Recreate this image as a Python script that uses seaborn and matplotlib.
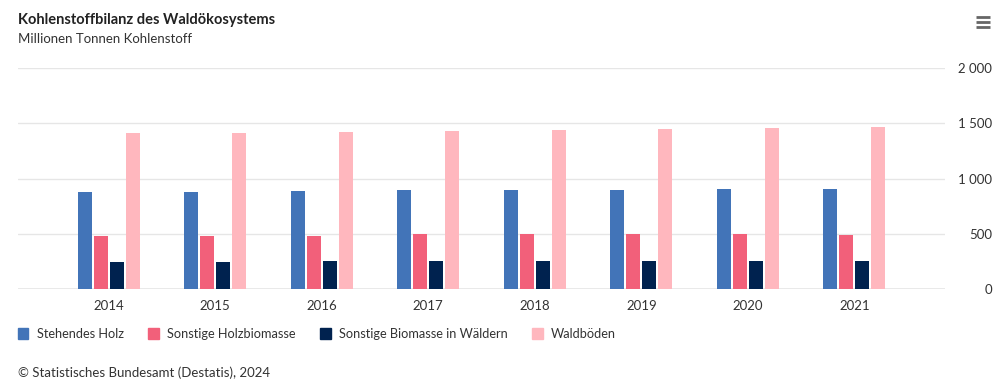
import numpy as np
import pandas as pd
import seaborn as sns
import matplotlib.pyplot as plt
from matplotlib.lines import Line2D
from matplotlib.patches import Rectangle

# ----------------------------
# Data (Millionen Tonnen Kohlenstoff)
# ----------------------------
years = ["2014", "2015", "2016", "2017", "2018", "2019", "2020", "2021"]
stehendes_holz = [880, 880, 889, 892, 896, 897, 905, 906]
sonstige_holzbiomasse = [483, 483, 484, 494, 494, 495, 494, 493]
sonstige_biomasse = [242, 242, 252, 253, 253, 253, 253, 253]
waldboeden = [1409, 1415, 1424, 1433, 1442, 1449, 1460, 1469]

series_names = ["Stehendes Holz", "Sonstige Holzbiomasse",
                "Sonstige Biomasse in Wäldern", "Waldböden"]
colors = ["#4274b8", "#f2607a", "#00224f", "#ffb7be"]

df = pd.DataFrame({
    "year": years * 4,
    "series": np.repeat(series_names, len(years)),
    "value": stehendes_holz + sonstige_holzbiomasse + sonstige_biomasse + waldboeden,
})

sns.set_theme(style="white")
plt.rcParams["font.family"] = ["Lato", "DejaVu Sans"]

fig = plt.figure(figsize=(9.99, 3.82), dpi=100)
ax = fig.add_axes([18 / 999, 1 - 289 / 382, (945 - 18) / 999, (289 - 68) / 382])

sns.barplot(
    data=df, x="year", y="value", hue="series",
    palette=colors, width=0.6, gap=0.12, ax=ax,
    legend=False, saturation=1, edgecolor="none",
)

ax.set_xlim(-0.85, 7.85)
ax.set_ylim(0, 2000)
ax.set_yticks([0, 500, 1000, 1500, 2000])
ax.set_yticklabels(["0", "500", "1 000", "1 500", "2 000"])
ax.yaxis.tick_right()
ax.tick_params(axis="y", length=0, pad=0, labelsize=9.5, colors="#333333")
for lab in ax.get_yticklabels():
    lab.set_horizontalalignment("right")
    lab.set_x(1 + 47 / 927)
ax.tick_params(axis="x", length=0, pad=8, labelsize=9.5, colors="#333333")
ax.set_xlabel("")
ax.set_ylabel("")
ax.grid(axis="y", color="#e6e6e6", linewidth=1)
ax.set_axisbelow(True)
for s in ax.spines.values():
    s.set_visible(False)
ax.axhline(0, color="#e6e6e6", linewidth=1.2, zorder=0)

# Title and subtitle
fig.text(18 / 999, 1 - 20 / 382, "Kohlenstoffbilanz des Waldökosystems",
         fontsize=10.5, fontweight="bold", color="#222222", va="center")
fig.text(18 / 999, 1 - 39 / 382, "Millionen Tonnen Kohlenstoff",
         fontsize=9.5, color="#333333", va="center")

# Hamburger menu icon
for yy in [17, 22, 27]:
    fig.add_artist(Line2D([976 / 999, 990 / 999], [1 - yy / 382] * 2,
                          color="#666666", linewidth=2, solid_capstyle="butt"))

# Legend
handles = [Rectangle((0, 0), 1, 1, color=c) for c in colors]
fig.legend(handles, series_names, loc="center left",
           bbox_to_anchor=(6 / 999, 1 - 334 / 382), ncol=4, frameon=False,
           fontsize=9.2, handlelength=0.85, handleheight=0.85, handletextpad=0.65,
           columnspacing=1.9, labelcolor="#333333")

# Source
fig.text(18 / 999, 1 - 373 / 382, "© Statistisches Bundesamt (Destatis), 2024",
         fontsize=9.5, color="#333333", va="center")

fig.savefig("out.png", dpi=100)
